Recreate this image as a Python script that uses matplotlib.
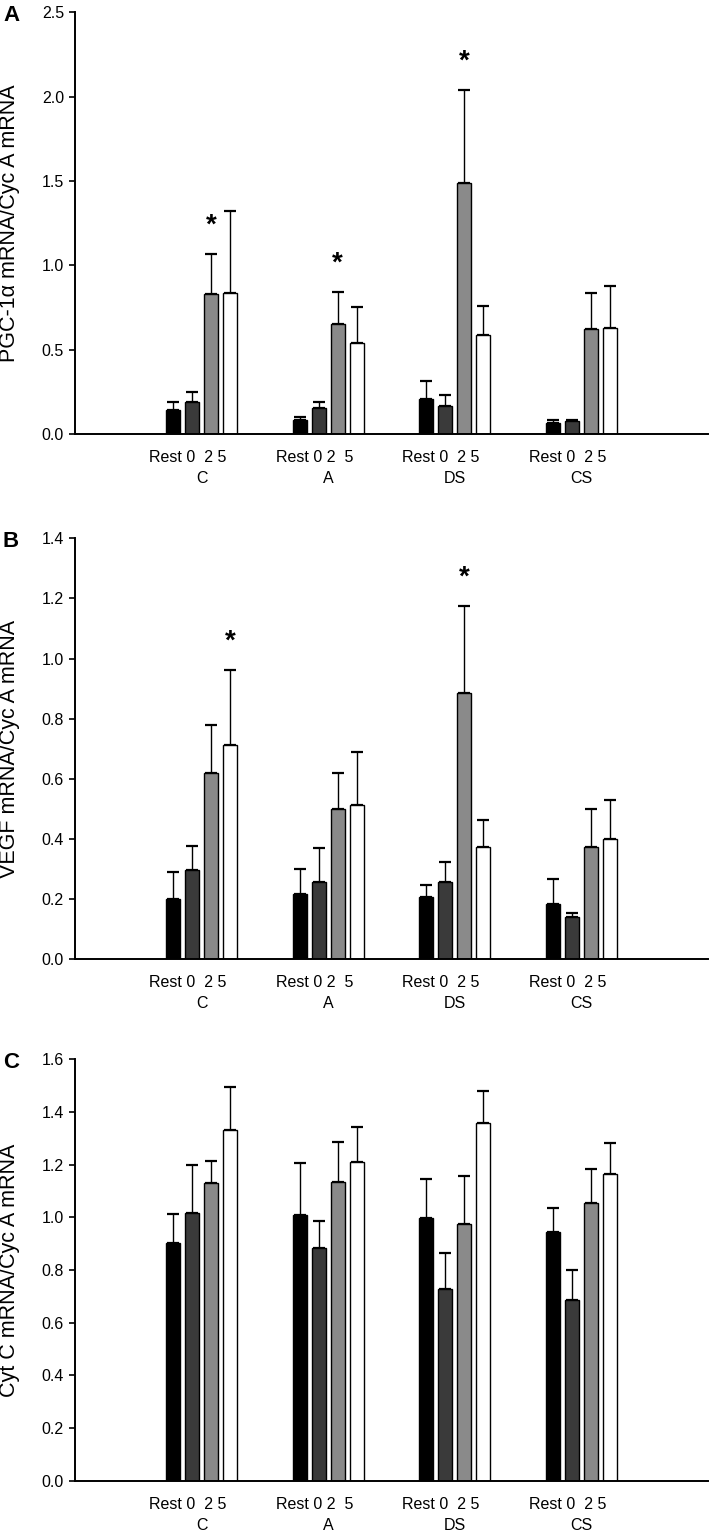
import numpy as np
import matplotlib
matplotlib.use("Agg")
import matplotlib.pyplot as plt

# ── Données ──
groups = ["C", "A", "DS", "CS"]
times = ["Rest", "0", "2", "5"]
time_labels = ["Rest 0  2 5", "Rest 0 2  5", "Rest 0  2 5", "Rest 0  2 5"]

# PGC-1α (panneau A) : lignes = Rest, 0, 2, 5 ; colonnes = C, A, DS, CS
pgc_mean = [[0.14, 0.083, 0.21, 0.063],
            [0.188, 0.152, 0.168, 0.077],
            [0.83, 0.65, 1.49, 0.625],
            [0.835, 0.537, 0.588, 0.63]]
pgc_err = [[0.05, 0.02, 0.106, 0.02],
           [0.062, 0.038, 0.062, 0.006],
           [0.236, 0.19, 0.55, 0.21],
           [0.485, 0.213, 0.172, 0.25]]
pgc_stars = [(0, 2), (1, 2), (2, 2)]

# VEGF (panneau B)
vegf_mean = [[0.199, 0.218, 0.206, 0.184],
             [0.296, 0.258, 0.257, 0.14],
             [0.618, 0.499, 0.886, 0.374],
             [0.713, 0.512, 0.374, 0.401]]
vegf_err = [[0.092, 0.081, 0.041, 0.083],
            [0.082, 0.111, 0.067, 0.014],
            [0.16, 0.122, 0.288, 0.125],
            [0.248, 0.177, 0.09, 0.129]]
vegf_stars = [(0, 3), (2, 2)]

# Cyt C (panneau C)
cytc_mean = [[0.904, 1.010, 0.997, 0.943],
             [1.018, 0.884, 0.729, 0.687],
             [1.129, 1.136, 0.974, 1.055],
             [1.331, 1.209, 1.357, 1.166]]
cytc_err = [[0.109, 0.195, 0.148, 0.093],
            [0.182, 0.101, 0.137, 0.113],
            [0.086, 0.151, 0.183, 0.130],
            [0.163, 0.134, 0.124, 0.117]]
cytc_stars = []

panels = [
    ("A", "PGC-1α mRNA/Cyc A mRNA", pgc_mean, pgc_err, pgc_stars, 2.5, 0.5),
    ("B", "VEGF mRNA/Cyc A mRNA", vegf_mean, vegf_err, vegf_stars, 1.4, 0.2),
    ("C", "Cyt C mRNA/Cyc A mRNA", cytc_mean, cytc_err, cytc_stars, 1.6, 0.2),
]

bar_colors = ["#000000", "#3a3a3a", "#8a8a8a", "#ffffff"]
FONT = ["Liberation Sans", "DejaVu Sans"]
plt.rcParams["font.family"] = FONT

W, H = 709, 1533
fig = plt.figure(figsize=(W / 100, H / 100), dpi=100)

# positions des axes en pixels (haut, bas)
axes_px = [(12.3, 434.0), (538.3, 959.3), (1059.3, 1480.7)]
left_px, right_px = 75.0, 708.0

step = 0.15
width = 0.11
centers = np.arange(1, len(groups) + 1)

for (letter, ylabel, mean, err, stars, ymax, ystep), (top, bot) in zip(panels, axes_px):
    ax = fig.add_axes([left_px / W, 1 - bot / H, (right_px - left_px) / W, (bot - top) / H])
    mean = np.array(mean)
    err = np.array(err)
    for i in range(len(times)):
        xs = centers + (i - 1.5) * step
        ax.bar(xs, mean[i], width=width, color=bar_colors[i],
               edgecolor="black", linewidth=1.0, zorder=2)
        ax.errorbar(xs, mean[i], yerr=[np.zeros(len(groups)), err[i]],
                    fmt="none", ecolor="black", elinewidth=1.0,
                    capsize=4.3, capthick=1.6, zorder=1)
    for g, t in stars:
        x = centers[g] + (t - 1.5) * step
        y = mean[t, g] + err[t, g]
        ax.annotate("*", (x, y), xytext=(0, 11), textcoords="offset points",
                    ha="center", va="bottom", fontsize=20, fontweight="bold")

    ax.set_xlim(0, 5)
    ax.set_ylim(0, ymax)
    ax.set_yticks(np.arange(0, ymax + 1e-9, ystep))
    ax.set_yticklabels([f"{v:.1f}" for v in np.arange(0, ymax + 1e-9, ystep)],
                       fontsize=11.5)
    ax.set_xticks([])
    ax.tick_params(axis="y", length=4, width=1.2, pad=4.0, direction="out")
    for s in ["top", "right"]:
        ax.spines[s].set_visible(False)
    ax.spines["left"].set_linewidth(1.4)
    ax.spines["bottom"].set_linewidth(1.4)
    ax.patch.set_visible(False)

    tr = ax.get_xaxis_transform()
    for c, grp, tl in zip(centers, groups, time_labels):
        ax.annotate(tl, (c - 0.11, 0), xycoords=tr, xytext=(0, -17),
                    textcoords="offset points", ha="center", va="center",
                    fontsize=11.5)
        ax.annotate(grp, (c, 0), xycoords=tr, xytext=(0, -32),
                    textcoords="offset points", ha="center", va="center",
                    fontsize=11.5)

    fig.text(10 / W, 1 - (top + bot) / 2 / H, ylabel, rotation=90,
             ha="center", va="center", fontsize=15.5)
    fig.text(11 / W, 1 - (top + 3) / H, letter, ha="center", va="center",
             fontsize=16, fontweight="bold")

fig.savefig("out.png", dpi=100)
